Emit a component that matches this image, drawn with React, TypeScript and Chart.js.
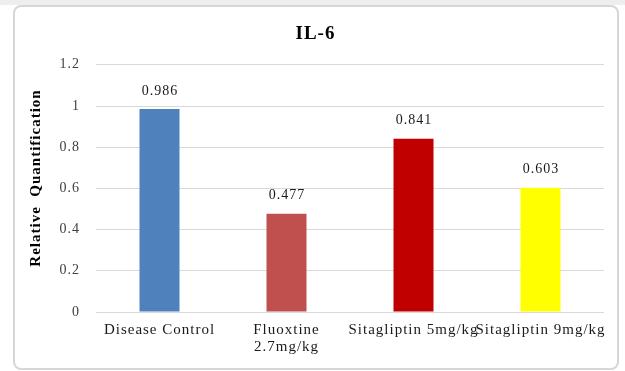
import React, { useEffect, useRef } from "react";
import { Chart, registerables } from "chart.js";

Chart.register(...registerables);

const categories: (string | string[])[] = [
  "Disease Control",
  ["Fluoxtine", "2.7mg/kg"],
  "Sitagliptin 5mg/kg",
  "Sitagliptin 9mg/kg",
];
const values = [0.986, 0.477, 0.841, 0.603];
const valueLabels = ["0.986", "0.477", "0.841", "0.603"];
const barColors = ["#4F81BD", "#C0504D", "#C00000", "#FFFF00"];
const chartTitle = "IL-6";
const yAxisTitle = "Relative  Quantification";

const FONT = "'Liberation Serif', 'Times New Roman', serif";

export default function App() {
  const ref = useRef<HTMLCanvasElement | null>(null);

  useEffect(() => {
    document.body.style.margin = "0";
    const canvas = ref.current;
    if (!canvas) return;

    const spacingPlugin = {
      id: "spacing",
      beforeDraw(chart: any) {
        (chart.ctx as any).letterSpacing = "1px";
      },
      afterDraw(chart: any) {
        (chart.ctx as any).letterSpacing = "0px";
      },
    };

    const labelPlugin = {
      id: "valueLabels",
      afterDatasetsDraw(chart: any) {
        const ctx = chart.ctx;
        const meta = chart.getDatasetMeta(0);
        ctx.save();
        ctx.letterSpacing = "1px";
        ctx.font = `14px ${FONT}`;
        ctx.fillStyle = "#1a1a1a";
        ctx.textAlign = "center";
        ctx.textBaseline = "middle";
        meta.data.forEach((bar: any, i: number) => {
          ctx.fillText(valueLabels[i], bar.x + 0.5, bar.y - 18);
        });
        ctx.restore();
      },
    };

    const yTitlePlugin = {
      id: "yTitle",
      afterDraw(chart: any) {
        const ctx = chart.ctx;
        ctx.save();
        ctx.letterSpacing = "1px";
        ctx.font = `bold 15px ${FONT}`;
        ctx.fillStyle = "#000";
        ctx.textAlign = "center";
        ctx.textBaseline = "middle";
        ctx.translate(36, 178);
        ctx.rotate(-Math.PI / 2);
        ctx.fillText(yAxisTitle, 0, 0);
        ctx.restore();
      },
    };

    const chart = new Chart(canvas, {
      type: "bar",
      data: {
        labels: categories as any,
        datasets: [
          {
            data: values,
            backgroundColor: barColors,
            borderWidth: 0,
            barPercentage: 0.315,
            categoryPercentage: 1,
          },
        ],
      },
      options: {
        responsive: false,
        animation: false,
        layout: { padding: { left: 27, right: 21, top: 0, bottom: 10 } },
        plugins: {
          legend: { display: false },
          tooltip: { enabled: false },
          title: {
            display: true,
            text: chartTitle,
            color: "#000",
            font: { family: FONT, size: 19, weight: "bold" },
            padding: { top: 23, bottom: 19 },
          },
        },
        scales: {
          x: {
            grid: { display: false, drawTicks: false },
            border: { display: false },
            ticks: {
              color: "#1a1a1a",
              font: { family: FONT, size: 15, lineHeight: 1.1 },
              padding: 10,
              maxRotation: 0,
              autoSkip: false,
            },
            afterFit: (s: any) => {
              s.height = 49;
            },
          },
          y: {
            min: 0,
            max: 1.2,
            grid: { color: "#d9d9d9", drawTicks: false },
            border: { display: false },
            ticks: {
              stepSize: 0.2,
              color: "#404040",
              font: { family: FONT, size: 14 },
              padding: 16,
              callback: (v: any) => String(Number(Number(v).toFixed(1))),
            },
            afterFit: (s: any) => {
              s.width = 69;
            },
          },
        },
      },
      plugins: [spacingPlugin, labelPlugin, yTitlePlugin],
    });

    return () => chart.destroy();
  }, []);

  return (
    <div
      style={{
        position: "fixed",
        left: 0,
        top: 0,
        width: 625,
        height: 371,
        background: "#fff",
        overflow: "hidden",
      }}
    >
      <div
        style={{
          position: "absolute",
          left: 0,
          top: 0,
          width: 625,
          height: 5,
          background: "#eeeeee",
        }}
      />
      <div
        style={{
          position: "absolute",
          left: 13,
          top: 5,
          width: 602,
          height: 361,
          border: "2px solid #d6d6d6",
          borderRadius: 8,
          background: "#fff",
        }}
      />
      <canvas
        ref={ref}
        width={625}
        height={371}
        style={{ position: "absolute", left: 0, top: 0 }}
      />
    </div>
  );
}
